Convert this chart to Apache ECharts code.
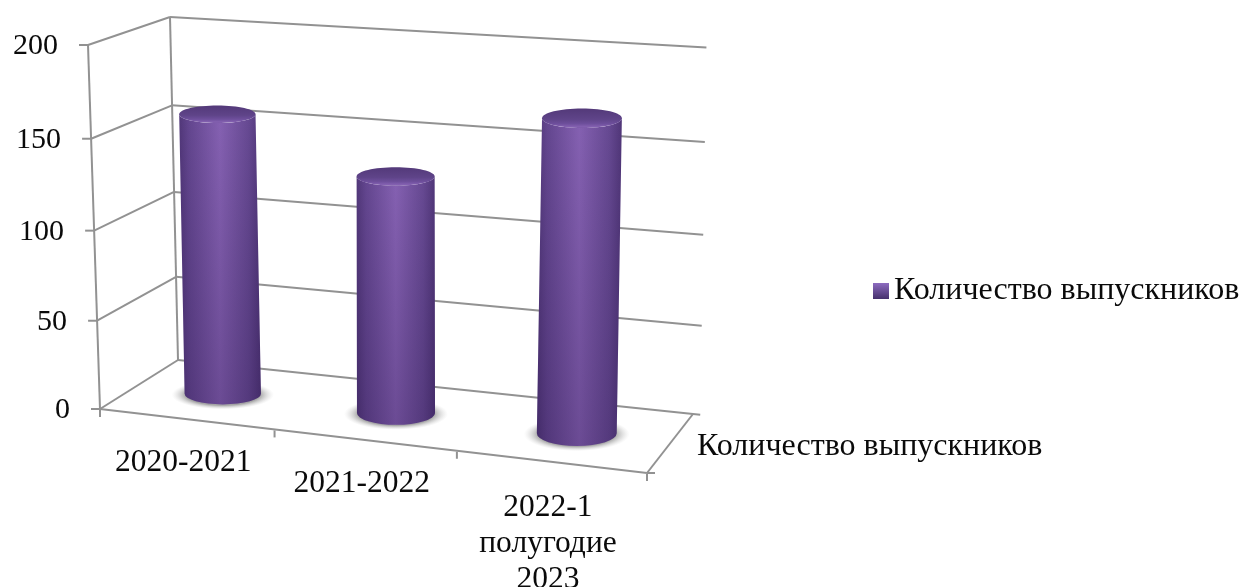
<!DOCTYPE html>
<html><head><meta charset="utf-8">
<style>html,body{margin:0;padding:0;background:#fff}#c{width:1243px;height:587px}</style>
<script src="https://cdn.jsdelivr.net/npm/echarts@6/dist/echarts.min.js"></script>
</head><body><div id="c"></div>
<script>
const categories = ['2020-2021', '2021-2022', '2022-1\nполугодие\n2023'];
const values = [158, 132, 171];
const yTicks = [0, 50, 100, 150, 200];
const seriesName = 'Количество выпускников';

const SERIF = '"Liberation Serif","Times New Roman",serif';
const LINE = '#929292';
// corners of the skewed box: floor [front-left, front-right, back-left, back-right], same for top
const F = [[100,409],[647,473],[178,360],[693,414]];
const T = [[88,45],[660,92],[170,17],[699,47]];
const lerp = (a,b,t) => a + (b-a)*t;
function P(u, v0, d) {
  const v = v0 - 0.04*v0*(1-v0);
  const r = [];
  for (let i = 0; i < 2; i++) {
    const fl = lerp(lerp(F[0][i],F[1][i],u), lerp(F[2][i],F[3][i],u), d);
    const tp = lerp(lerp(T[0][i],T[1][i],u), lerp(T[2][i],T[3][i],u), d);
    r.push(lerp(fl,tp,v));
  }
  return r;
}
const warp = u => u - 0.064*u*(1-u);
function norm(params, api, x, y) {
  const c = api.coord([x, y]), s = params.coordSys;
  return { u: (c[0]-s.x)/s.width, v: (s.y+s.height-c[1])/s.height, band: api.size([1,0])[0], w: s.width };
}
const seg = (a,b) => ({ type:'line', shape:{x1:a[0],y1:a[1],x2:b[0],y2:b[1]},
  style:{stroke:LINE,lineWidth:2,fill:null}, silent:true });
const label = (text,x,y,align,vAlign,size) => ({ type:'text', silent:true,
  style:{text,x,y,font:size+'px '+SERIF,fill:'#0a0a0a',align,verticalAlign:vAlign,textAlign:align,textVerticalAlign:vAlign,lineHeight:36}});

function renderWalls(params, api) {
  const val = api.value(1), n = norm(params, api, 0, val), v = n.v;
  const a = P(0,v,0), b = P(0,v,1), c = P(1.014,v,1);
  const kids = [seg(a,b), seg(b,c), seg([a[0]-9,a[1]],a),
    label(String(val), a[0]-30, a[1]+1, 'right', 'middle', 30)];
  if (params.dataIndex === 0) {
    kids.push(seg(P(0,0,0),P(0,1,0)), seg(P(0,0,1),P(0,1,1)),
      seg(P(0,0,0),P(1,0,0)), seg(P(1,0,0),P(1,0,1)),
      seg(P(1,0,0),[P(1,0,0)[0]+8,P(1,0,0)[1]]),
      seg(P(0,0,0),[P(0,0,0)[0],P(0,0,0)[1]+8]));
  }
  return { type:'group', children:kids };
}
function renderCats(params, api) {
  const i = api.value(0), n = norm(params, api, i, 0);
  const h = n.band/n.w;
  const t = P(warp(n.u+h/2),0,0), m = P(warp(n.u),0,0);
  return { type:'group', children:[
    seg([t[0],t[1]+1],[t[0],t[1]+8]),
    label(categories[i], m[0]-3, m[1]+26+(i===2?2:0), 'center', 'top', 31.5),
    ...(i===0 ? [label(seriesName, P(1,0,.5)[0]+27, P(1,0,.5)[1]+3, 'left', 'middle', 32)] : [])
  ]};
}
function renderBar(params, api) {
  const i = api.value(0), val = api.value(1), n = norm(params, api, i, val);
  const u = warp(n.u), v = n.v;
  const base = P(u,0,.5), top = P(u,v,.5);
  const rx = n.band*0.207*(1+0.07*u);
  const ryB = 10 + 3.6*u, ryT = 8.5 + 1.5*u;
  const body = `M${top[0]-rx} ${top[1]} L${base[0]-rx} ${base[1]} A${rx} ${ryB} 0 0 0 ${base[0]+rx} ${base[1]} L${top[0]+rx} ${top[1]} A${rx} ${ryT} 0 0 1 ${top[0]-rx} ${top[1]} Z`;
  const hGrad = {type:'linear',x:0,y:0,x2:1,y2:0,colorStops:[
    {offset:0,color:'#513779'},{offset:.12,color:'#63468f'},{offset:.5,color:'#8561b2'},
    {offset:.85,color:'#664992'},{offset:1,color:'#503678'}]};
  const vGrad = {type:'linear',x:0,y:0,x2:0,y2:1,colorStops:[
    {offset:0,color:'rgba(30,10,60,0)'},{offset:1,color:'rgba(30,10,60,0.25)'}]};
  const shadow = {type:'radial',x:.5,y:.5,r:.5,colorStops:[
    {offset:0,color:'rgba(150,150,150,1)'},{offset:.72,color:'rgba(160,160,160,.95)'},{offset:1,color:'rgba(215,215,215,0)'}]};
  const cap = {type:'linear',x:0,y:0,x2:0,y2:1,colorStops:[
    {offset:0,color:'#533979'},{offset:.55,color:'#5f4489'},{offset:.78,color:'#6e4f9c'},{offset:.93,color:'#8360b0'},{offset:1,color:'#7c5aa8'}]};
  const sr = rx+13;
  return { type:'group', children:[
    {type:'circle',x:base[0],y:base[1]+1,scaleX:1,scaleY:(ryB+4)/sr,shape:{cx:0,cy:0,r:sr},style:{fill:shadow}},
    {type:'path',shape:{pathData:body},style:{fill:hGrad}},
    {type:'path',shape:{pathData:body},style:{fill:vGrad}},
    {type:'ellipse',shape:{cx:top[0],cy:top[1],rx:rx,ry:ryT},style:{fill:cap}}
  ]};
}

const chart = echarts.init(document.getElementById('c'), null, {renderer:'canvas'});
chart.setOption({
  animation:false,
  backgroundColor:'#fff',
  grid:{left:100,top:45,width:547,height:364,containLabel:false},
  xAxis:{type:'category',data:categories,show:false},
  yAxis:{type:'value',min:0,max:200,interval:50,show:false},
  legend:{show:true,data:[{name:seriesName,icon:'rect'}],left:873,top:275,padding:0,itemWidth:16,itemHeight:16,itemGap:5,
    selectedMode:false,textStyle:{fontFamily:SERIF,fontSize:32,color:'#0a0a0a',padding:[4,0,0,0]},
    itemStyle:{color:{type:'linear',x:0,y:0,x2:0,y2:1,colorStops:[{offset:0,color:'#8d6cc0'},{offset:1,color:'#45306c'}]}}},
  tooltip:{show:false},
  series:[
    {type:'custom',name:'walls',z:1,silent:true,renderItem:renderWalls,data:yTicks.map(t=>[0,t])},
    {type:'custom',name:'cats',z:1,silent:true,renderItem:renderCats,data:categories.map((c,i)=>[i,0])},
    {type:'custom',name:seriesName,z:3,silent:true,renderItem:renderBar,data:values.map((t,i)=>[i,t]),
      itemStyle:{color:'#6a4a96'}}
  ]
});
</script></body></html>
